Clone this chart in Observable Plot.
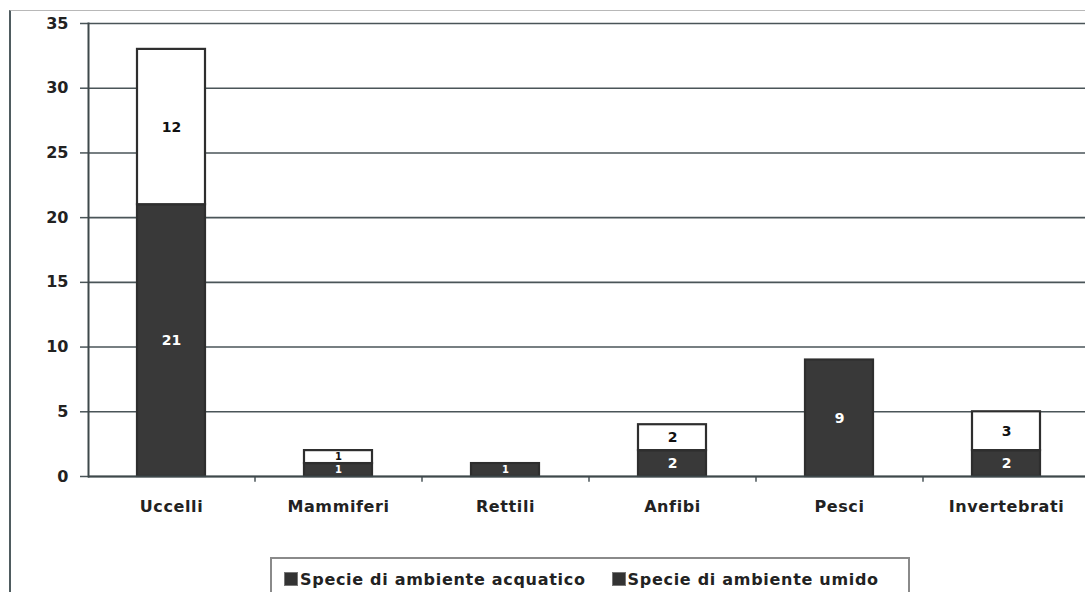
<!DOCTYPE html>
<html>
<head>
<meta charset="utf-8">
<script src="https://cdn.jsdelivr.net/npm/d3@7"></script>
<script src="https://cdn.jsdelivr.net/npm/@observablehq/plot@0.6"></script>
<style>
  html, body { margin: 0; padding: 0; background: #fff; overflow: hidden; }
  body { width: 1085px; height: 592px; position: relative; font-family: "DejaVu Sans", sans-serif; }
  #frame { position: absolute; left: 9px; top: 10px; width: 1100px; height: 600px;
           border-left: 2px solid #4f5c60; border-top: 1px solid #b8b8b8; pointer-events: none; }
  #chart { position: absolute; left: 0; top: 0; }
  #chart svg g[aria-label="x-axis tick label"] text { letter-spacing: 0.6px; }
  #legend { position: absolute; left: 270px; top: 557px; width: 640px; height: 50px;
            border: 2px solid #8a8a8a; box-sizing: border-box; display: flex; gap: 26px;
            padding: 9px 0 0 12px; font-size: 16px; color: #222; font-weight: bold; letter-spacing: 0.7px; }
  .item { display: flex; align-items: center; gap: 2px; height: 22px; }
  .sw { width: 12px; height: 12px; background: #333; border: 1px solid #777; }
</style>
</head>
<body>
<div id="chart"></div>
<div id="frame"></div>
<div id="legend"></div>
<script>
const categories = ["Uccelli", "Mammiferi", "Rettili", "Anfibi", "Pesci", "Invertebrati"];
const seriesNames = ["Specie di ambiente acquatico", "Specie di ambiente umido"];
const acquatico = [21, 1, 1, 2, 9, 2];
const umido = [12, 1, 0, 2, 0, 3];
const yTicks = [0, 5, 10, 15, 20, 25, 30, 35];

const seriesValues = [acquatico, umido];
const data = [];
seriesNames.forEach((s, si) => categories.forEach((c, ci) => {
  const v = seriesValues[si][ci];
  if (v > 0) data.push({cat: c, series: s, value: v});
}));

const left = 88, right = 1090;
const step = (right - left) / categories.length;
const darkFill = "#393939";
const font = "'DejaVu Sans', sans-serif";

const chart = Plot.plot({
  width: 1085,
  height: 545,
  marginTop: 23,
  marginBottom: 69,
  marginLeft: 88,
  marginRight: 0,
  style: {fontFamily: font, background: "transparent"},
  x: {domain: categories, range: [left, right], paddingInner: 0.59, paddingOuter: 0.295, label: null},
  y: {domain: [0, 35], label: null},
  color: {type: "identity"},
  marks: [
    Plot.ruleY(yTicks, {stroke: "#4a5558", strokeWidth: 1.6}),
    Plot.ruleX(categories.slice(1), {x: d => d, dx: -step / 2, y1: 0, y2: -0.45, stroke: "#4a5558", strokeWidth: 1.5}),
    Plot.barY(data, Plot.stackY({
      x: "cat", y: "value", z: "series",
      fill: d => d.series === seriesNames[0] ? darkFill : "#ffffff",
      stroke: "#2e2e2e", strokeWidth: 2.2, inset: 0
    })),
    Plot.text(data, Plot.stackY({
      x: "cat", y: "value", z: "series", text: d => String(d.value),
      fill: d => d.series === seriesNames[0] ? "#ffffff" : "#111111",
      fontSize: d => d.value < 2 ? 10 : 14, fontWeight: "bold"
    })),
    Plot.axisY({ticks: yTicks, tickSize: 8, tickPadding: 12, fontSize: 16, fontWeight: "bold",
      stroke: "#4a5558", strokeWidth: 1.5, color: "#222"}),
    Plot.axisX({tickSize: 0, tickPadding: 24, fontSize: 16, fontWeight: "bold", color: "#222"}),
    Plot.frame({anchor: "left", stroke: "#3e484b", strokeWidth: 2}),
    Plot.ruleY([0], {stroke: "#3e484b", strokeWidth: 2})
  ]
});
document.getElementById("chart").appendChild(chart);

const legend = document.getElementById("legend");
seriesNames.forEach(s => {
  const it = document.createElement("div");
  it.className = "item";
  const sw = document.createElement("span");
  sw.className = "sw";
  const t = document.createElement("span");
  t.textContent = s;
  it.appendChild(sw); it.appendChild(t);
  legend.appendChild(it);
});
</script>
</body>
</html>
